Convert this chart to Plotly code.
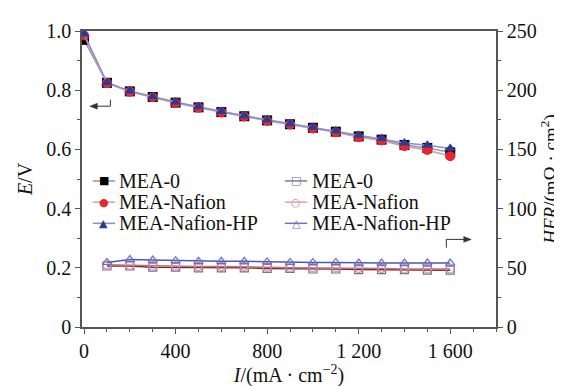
import plotly.graph_objects as go

# ---- data ----
I_E = [0, 100, 200, 300, 400, 500, 600, 700, 800, 900, 1000, 1100, 1200, 1300, 1400, 1500, 1600]
E_MEA0 = [0.970, 0.825, 0.796, 0.777, 0.758, 0.742, 0.726, 0.712, 0.698, 0.685, 0.673, 0.660, 0.644, 0.633, 0.615, 0.605, 0.590]
E_Nafion = [0.985, 0.824, 0.795, 0.776, 0.757, 0.741, 0.725, 0.711, 0.697, 0.684, 0.671, 0.658, 0.641, 0.630, 0.611, 0.598, 0.577]
E_HP = [0.990, 0.826, 0.797, 0.778, 0.760, 0.744, 0.728, 0.714, 0.700, 0.687, 0.675, 0.662, 0.648, 0.637, 0.622, 0.614, 0.603]

I_HFR = [100, 200, 300, 400, 500, 600, 700, 800, 900, 1000, 1100, 1200, 1300, 1400, 1500, 1600]
HFR_MEA0 = [51.5, 51.5, 50.5, 50.5, 50.0, 50.0, 50.0, 49.5, 49.5, 49.0, 49.0, 48.5, 48.5, 48.5, 48.0, 48.0]
HFR_Nafion = [52.5, 52.0, 51.5, 51.5, 51.0, 51.0, 51.0, 50.5, 50.0, 50.0, 50.0, 49.5, 49.5, 49.0, 49.0, 49.0]
HFR_HP = [54.5, 57.0, 56.5, 56.0, 55.5, 55.5, 55.5, 55.0, 54.5, 54.5, 54.5, 54.0, 54.0, 54.0, 54.0, 54.0]

names = ["MEA-0", "MEA-Nafion", "MEA-Nafion-HP"]
x_tickvals = [0, 400, 800, 1200, 1600]
x_ticktext = ["0", "400", "800", "1 200", "1 600"]
y_tickvals = [0, 0.2, 0.4, 0.6, 0.8, 1.0]
y_ticktext = ["0", "0.2", "0.4", "0.6", "0.8", "1.0"]
y2_tickvals = [0, 50, 100, 150, 200, 250]

FONT = "Liberation Serif"
SYMFONT = "DejaVu Sans"
AX = "#555555"
TXT = "#111111"

fig = go.Figure()

E_series = [E_MEA0, E_Nafion, E_HP]
E_sym = ["square", "circle", "triangle-up"]
E_glyph = ["■", "●", "▲"]
E_col = ["#000000", "#e8262b", "#2a3a9c"]
E_line = ["#9a98b0", "#c8a0b0", "#8a8fc8"]
for n, ys, s, c, lc in zip(names, E_series, E_sym, E_col, E_line):
    fig.add_trace(go.Scatter(x=I_E, y=ys, name=n, mode="lines+markers",
                             marker=dict(symbol=s, size=10, color=c),
                             line=dict(color=lc, width=1.5),
                             showlegend=False, yaxis="y"))

H_series = [HFR_MEA0, HFR_Nafion, HFR_HP]
H_sym = ["square-open", "circle-open", "triangle-up-open"]
H_glyph = ["□", "○", "△"]
H_col = ["#7a6a9a", "#e08a98", "#6a70c0"]
H_line = ["#5a3030", "#c87080", "#4a58b8"]
H_legline = ["#7a78a8", "#e0a0a8", "#6a70c0"]
for n, ys, s, c, lc in zip(names, H_series, H_sym, H_col, H_line):
    fig.add_trace(go.Scatter(x=I_HFR, y=ys, name=n, mode="lines+markers",
                             marker=dict(symbol=s, size=8, color=c, line=dict(width=1.2)),
                             line=dict(color=lc, width=1.5),
                             showlegend=False, yaxis="y2"))

# ---- legends (drawn as text + short line keys, two columns) ----
rows_y = [0.4935, 0.4218, 0.3502]
def legend_column(x_line0, x_line1, x_mark, x_text, glyphs, mcols, lcols, gsize):
    for n, g, mc, lc, yy in zip(names, glyphs, mcols, lcols, rows_y):
        fig.add_shape(type="line", xref="paper", yref="paper", x0=x_line0, x1=x_line1,
                      y0=yy, y1=yy, line=dict(color=lc, width=1.5))
        fig.add_annotation(xref="paper", yref="paper", x=x_mark, y=yy, text=g,
                           showarrow=False, xanchor="center", yanchor="middle",
                           font=dict(family=SYMFONT, size=gsize, color=mc))
        fig.add_annotation(xref="paper", yref="paper", x=x_text, y=yy, text=n,
                           showarrow=False, xanchor="left", yanchor="middle",
                           font=dict(family=FONT, size=20, color=TXT))

legend_column(0.0260, 0.0800, 0.0530, 0.0840, E_glyph, E_col, E_line, 11)
legend_column(0.4900, 0.5440, 0.5170, 0.5500, H_glyph, H_col, H_legline, 11)

# ---- elbow arrows ----
ARC = "#333333"
fig.add_shape(type="line", xref="x", yref="y", x0=115, x1=115, y0=0.746, y1=0.768,
              line=dict(color=ARC, width=1))
fig.add_shape(type="line", xref="x", yref="y", x0=50, x1=115, y0=0.746, y1=0.746,
              line=dict(color=ARC, width=1))
fig.add_shape(type="path", xref="x", yref="y", path="M 25 0.746 L 58 0.756 L 58 0.736 Z",
              fillcolor=ARC, line=dict(color=ARC, width=0.5))
fig.add_shape(type="line", xref="x", yref="y2", x0=1583, x1=1583, y0=67, y1=74,
              line=dict(color=ARC, width=1))
fig.add_shape(type="line", xref="x", yref="y2", x0=1583, x1=1665, y0=74, y1=74,
              line=dict(color=ARC, width=1))
fig.add_shape(type="path", xref="x", yref="y2", path="M 1692 74 L 1659 76.4 L 1659 71.6 Z",
              fillcolor=ARC, line=dict(color=ARC, width=0.5))

tf = dict(family=FONT, size=20, color=TXT)
fig.update_layout(
    width=562, height=386,
    margin=dict(l=74, r=70, t=22, b=57),
    paper_bgcolor="white", plot_bgcolor="white",
    font=dict(family=FONT, size=20, color=TXT),
    showlegend=False,
    xaxis=dict(range=[-9, 1800], tickvals=x_tickvals, ticktext=x_ticktext,
               showline=True, linecolor=AX, linewidth=1.5, mirror=True,
               ticks="outside", ticklen=5, tickcolor=AX, showgrid=False, zeroline=False,
               minor=dict(dtick=100, tick0=0, ticks="outside", ticklen=3, tickcolor=AX),
               title=dict(text="<i>I</i>/(mA · cm<sup>−2</sup>)", font=tf, standoff=6),
               tickfont=tf),
    yaxis=dict(range=[0, 1.0], tickvals=y_tickvals, ticktext=y_ticktext,
               showline=True, linecolor=AX, linewidth=1.5,
               ticks="outside", ticklen=5, tickcolor=AX, showgrid=False, zeroline=False,
               minor=dict(dtick=0.1, tick0=0, ticks="outside", ticklen=3, tickcolor=AX),
               title=dict(text="<i>E</i>/V", font=tf, standoff=8),
               tickfont=tf),
    yaxis2=dict(range=[0, 250], tickvals=y2_tickvals, overlaying="y", side="right",
                showline=True, linecolor=AX, linewidth=1.5,
                ticks="outside", ticklen=5, tickcolor=AX, showgrid=False, zeroline=False,
                minor=dict(dtick=25, tick0=0, ticks="outside", ticklen=3, tickcolor=AX),
                title=dict(text="<i>HFR</i>/(mΩ · cm<sup>2</sup>)",
                           font=dict(family=FONT, size=19, color=TXT), standoff=8),
                tickfont=tf),
)

fig.write_html("out.html")
